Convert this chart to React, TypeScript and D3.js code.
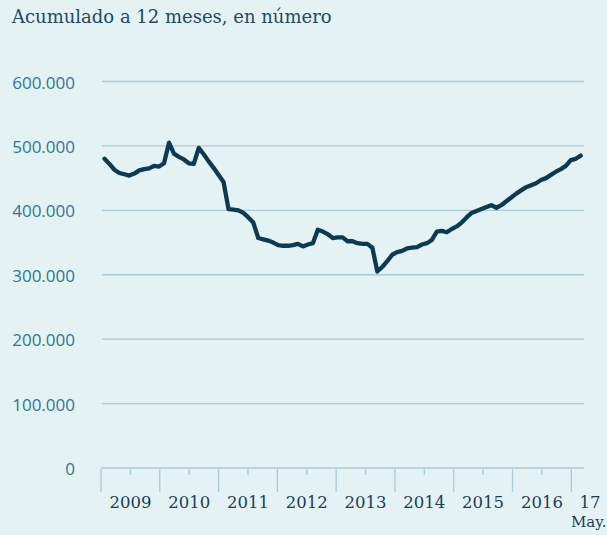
import React from "react";
import * as d3 from "d3";

const title = "Acumulado a 12 meses, en número";
const yTicks = [0, 100000, 200000, 300000, 400000, 500000, 600000];
const years = ["2009", "2010", "2011", "2012", "2013", "2014", "2015", "2016"];
const lastYearLabel = "17";
const lastMonthLabel = "May.";
// monthly values, thousands
const values = [
  480, 472, 463, 458, 456, 454, 457, 462, 464, 465, 469, 468,
  473, 505, 488, 483, 479, 473, 472, 497, 487, 476, 466, 455,
  444, 402, 401, 400, 396, 389, 381, 357, 355, 353, 350, 346,
  345, 345, 346, 348, 344, 347, 349, 370, 367, 363, 357, 358,
  358, 352, 352, 349, 348, 348, 342, 305, 312, 321, 331, 335,
  337, 341, 342, 343, 347, 349, 354, 367, 368, 366, 371, 375,
  381, 389, 396, 399, 402, 405, 408, 404, 408, 414, 420, 426,
  431, 436, 439, 442, 447, 450, 455, 460, 464, 469, 478, 480,
  485,
];

const W = 607;
const H = 535;

export default function App() {
  const y = d3.scaleLinear().domain([0, 600000]).range([468, 81.5]);
  const xYear = d3.scaleLinear().domain([2009, 2017]).range([101, 571.3]);
  const xPt = d3.scaleLinear().domain([0, values.length - 1]).range([104.5, 580.7]);
  const line = d3
    .line<number>()
    .x((_, i) => xPt(i))
    .y((d) => y(d * 1000))
    .curve(d3.curveLinear);
  const fmt = (v: number) => (v === 0 ? "0" : d3.format(",")(v).replace(/,/g, "."));
  const gridColor = "#a9cad8";
  const majorYears = d3.range(2009, 2018);
  const minorYears = d3.range(2009, 2017).map((v) => v + 0.5);

  return (
    <svg
      width={W}
      height={H}
      style={{ position: "absolute", left: 0, top: 0, display: "block" }}
    >
      <rect x={0} y={0} width={W} height={H} fill="#e5f2f4" />
      <text
        x={12}
        y={23}
        fontFamily="DejaVu Serif"
        fontSize={18}
        fill="#1c4a66"
      >
        {title}
      </text>
      {yTicks.map((t) => (
        <g key={t}>
          {t > 0 && (
            <line
              x1={102}
              x2={584}
              y1={y(t)}
              y2={y(t)}
              stroke={gridColor}
              strokeWidth={1.3}
            />
          )}
          <text
            x={75}
            y={y(t) + 7}
            textAnchor="end"
            fontFamily="Open Sans"
            fontSize={17}
            fill="#2b7894"
          >
            {fmt(t)}
          </text>
        </g>
      ))}
      <line x1={101} x2={584} y1={468} y2={468} stroke={gridColor} strokeWidth={1.5} />
      {majorYears.map((yr) => (
        <line
          key={"M" + yr}
          x1={xYear(yr)}
          x2={xYear(yr)}
          y1={469}
          y2={492}
          stroke={gridColor}
          strokeWidth={1.3}
        />
      ))}
      {minorYears.map((yr) => (
        <line
          key={"m" + yr}
          x1={xYear(yr)}
          x2={xYear(yr)}
          y1={469}
          y2={475}
          stroke={gridColor}
          strokeWidth={1.3}
        />
      ))}
      {years.map((lab, i) => (
        <text
          key={lab}
          x={xYear(2009 + i + 0.5)}
          y={508}
          textAnchor="middle"
          fontFamily="DejaVu Serif"
          fontSize={16.5}
          fill="#173f58"
        >
          {lab}
        </text>
      ))}
      <text
        x={590}
        y={508}
        textAnchor="middle"
        fontFamily="DejaVu Serif"
        fontSize={16.5}
        fill="#173f58"
      >
        {lastYearLabel}
      </text>
      <text
        x={571}
        y={527}
        fontFamily="DejaVu Serif"
        fontSize={15}
        fill="#173f58"
      >
        {lastMonthLabel}
      </text>
      <path
        d={line(values) || ""}
        fill="none"
        stroke="#0b3a55"
        strokeWidth={4.3}
        strokeLinejoin="round"
        strokeLinecap="round"
      />
    </svg>
  );
}
